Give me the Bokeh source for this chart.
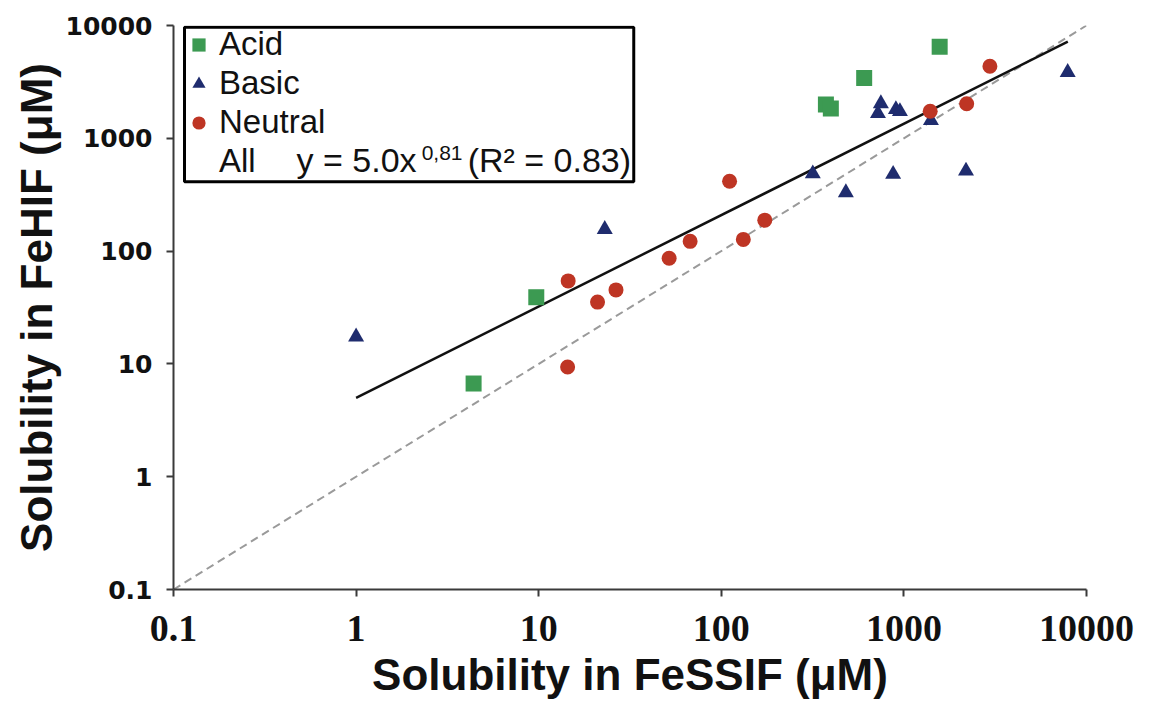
import numpy as np
from bokeh.plotting import figure
from bokeh.models import Range1d, FixedTicker, Legend, LegendItem, Label, BoxAnnotation
from bokeh.embed import file_html
from bokeh.resources import INLINE

# ---- data ----
acid_x = [9.7, 4.4, 374, 398, 606, 1570]
acid_y = [39, 6.7, 1995, 1837, 3427, 6486]
basic_x = [1.0, 23, 317, 481, 748, 721, 904, 951, 873, 1406, 2188, 7888]
basic_y = [17.4, 156, 486, 330, 2032, 1660, 1800, 1730, 480, 1439, 513, 3846]
neutral_x = [14.4, 14.5, 21.0, 26.5, 51.8, 67.5, 111, 132, 173, 1393, 2207, 2958]
neutral_y = [9.4, 54.4, 35.3, 45.3, 86.3, 122, 416, 127, 188, 1738, 2023, 4349]
fit_a = 5.0
fit_b = 0.81
fit_x = [1.0, 7900.0]
identity_x = [0.1, 10000.0]
tick_values = [0.1, 1, 10, 100, 1000, 10000]
tick_labels = ["0.1", "1", "10", "100", "1000", "10000"]

fit_y = [fit_a * v ** fit_b for v in fit_x]

GREEN = "#3C9A52"
NAVY = "#1F2C6E"
RED = "#BE3524"

p = figure(width=1161, height=703, x_axis_type="log", y_axis_type="log",
           x_range=Range1d(0.1, 10000), y_range=Range1d(0.1, 10000),
           output_backend="svg", toolbar_location=None,
           min_border_left=173, min_border_right=75,
           min_border_top=25, min_border_bottom=114)
p.grid.visible = False
p.outline_line_color = None
p.background_fill_color = "white"

for ax in (p.xaxis[0], p.yaxis[0]):
    ax.ticker = FixedTicker(ticks=tick_values, minor_ticks=[])
    ax.major_label_overrides = {v: t for v, t in zip(tick_values, tick_labels)}
    ax.axis_line_color = "#3a3a3a"
    ax.axis_line_width = 2
    ax.major_tick_line_color = "#3a3a3a"
    ax.major_tick_line_width = 2
    ax.major_tick_in = 0
    ax.major_tick_out = 7
    ax.minor_tick_line_color = None
    ax.axis_label_text_font = "Liberation Sans"
    ax.axis_label_text_font_style = "bold"
    ax.axis_label_text_font_size = "44px"
    ax.axis_label_text_color = "#111111"
    ax.major_label_text_color = "#111111"

p.xaxis[0].axis_label = "Solubility in FeSSIF (μM)"
p.yaxis[0].axis_label = "Solubility in FeHIF (μM)"
p.xaxis[0].major_label_text_font = "Liberation Sans Narrow"
p.xaxis[0].major_label_text_font_style = "bold"
p.xaxis[0].major_label_text_font_size = "38px"
p.xaxis[0].major_label_standoff = 19
p.xaxis[0].axis_label_standoff = 6
p.yaxis[0].major_label_text_font = "DejaVu Sans"
p.yaxis[0].major_label_text_font_style = "bold"
p.yaxis[0].major_label_text_font_size = "25px"
p.yaxis[0].major_label_standoff = 14
p.yaxis[0].axis_label_standoff = 2

# reference lines
p.line(identity_x, identity_x, line_color="#9a9a9a", line_width=2, line_dash="8 5")
p.line(fit_x, fit_y, line_color="#111111", line_width=2.5)

# points
r_acid = p.scatter(acid_x, acid_y, marker="square", size=16, fill_color=GREEN, line_color=None)
r_basic = p.scatter(basic_x, basic_y, marker="triangle", size=16, fill_color=NAVY, line_color=None)
r_neutral = p.scatter(neutral_x, neutral_y, marker="circle", size=15, fill_color=RED, line_color=None)
r_all = p.scatter(x=[], y=[], marker="circle", fill_alpha=0, line_alpha=0)


# layout helpers: pixel position -> data position (for legend box / equation text)
def px2x(px):
    return 10 ** ((px - 173) / 182.5 - 1)


def py2y(py):
    return 10 ** (4 - (py - 24.7) / 113.2)


# legend frame
p.add_layout(BoxAnnotation(left=px2x(184), right=px2x(633), top=py2y(26.5), bottom=py2y(181.5),
                           fill_alpha=0, line_color="black", line_width=3, line_alpha=1))

legend = Legend(items=[
    LegendItem(label="Acid", renderers=[r_acid]),
    LegendItem(label="Basic", renderers=[r_basic]),
    LegendItem(label="Neutral", renderers=[r_neutral]),
    LegendItem(label="All", renderers=[r_all]),
], location=(9, 409))
legend.label_text_font = "Liberation Sans"
legend.label_text_font_size = "33px"
legend.label_text_color = "#111111"
legend.glyph_width = 33
legend.glyph_height = 35
legend.label_height = 35
legend.label_standoff = 4
legend.spacing = 1
legend.padding = 0
legend.margin = 0
legend.border_line_color = None
legend.background_fill_alpha = 0
p.add_layout(legend, "center")

eq_font = "Liberation Sans"
p.add_layout(Label(x=px2x(296), y=py2y(160), text="y = 5.0x", text_font=eq_font,
                   text_font_size="34px", text_color="#111111", text_baseline="middle"))
p.add_layout(Label(x=px2x(421), y=py2y(153), text="0,81", text_font=eq_font,
                   text_font_size="21px", text_color="#111111", text_baseline="middle"))
p.add_layout(Label(x=px2x(467), y=py2y(160), text="(R² = 0.83)", text_font=eq_font,
                   text_font_size="34px", text_color="#111111", text_baseline="middle"))

open("out.html", "w").write(file_html(p, INLINE))
